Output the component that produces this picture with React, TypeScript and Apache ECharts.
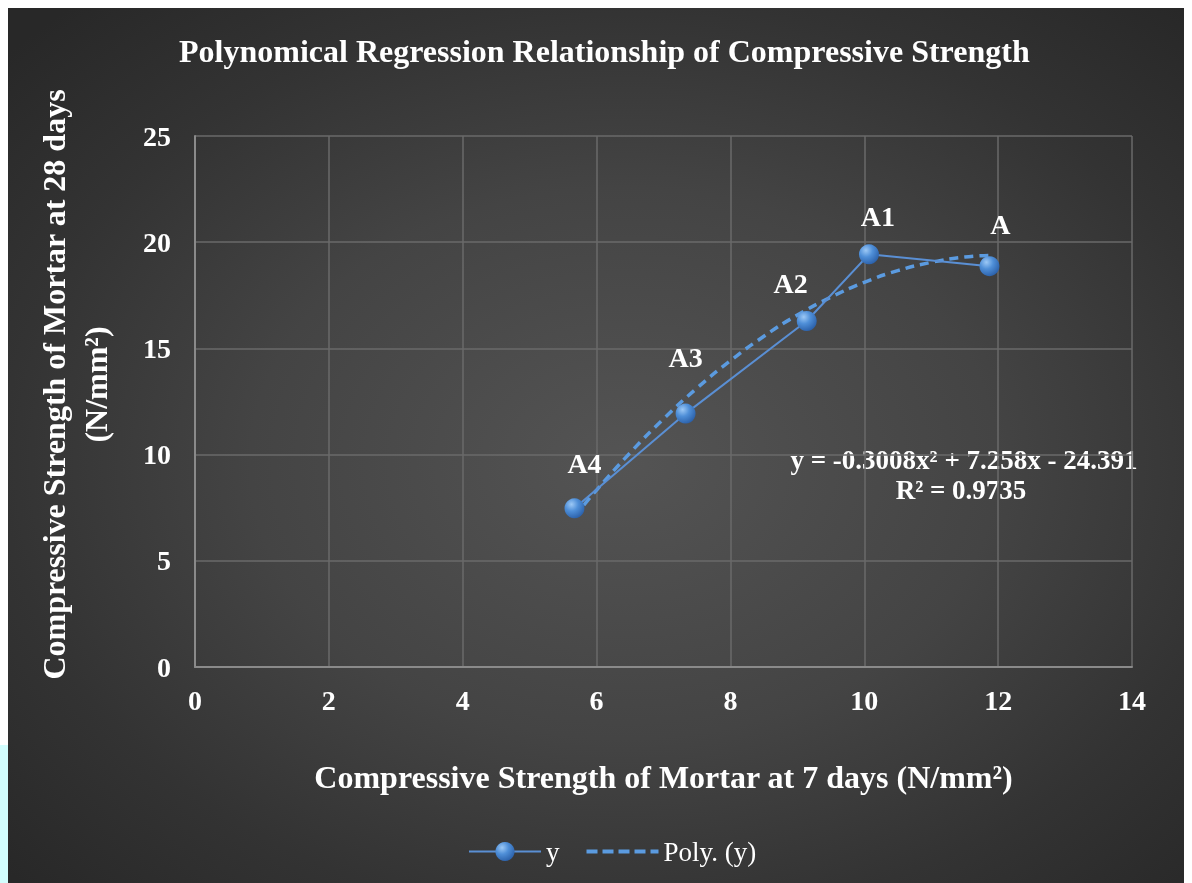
import React, { useEffect, useRef } from "react";
import * as echarts from "echarts";

const pointNames = ["A4", "A3", "A2", "A1", "A"];
const xValues = [5.67, 7.33, 9.14, 10.07, 11.87];
const yValues = [7.47, 11.93, 16.29, 19.43, 18.87];

// trend curve values
const trendX = [5.67, 6, 6.5, 7, 7.5, 8, 8.5, 9, 9.5, 10, 10.5, 11, 11.5, 11.87];
const trendY = [7.09, 8.33, 10.08, 11.68, 13.13, 14.42, 15.57, 16.57, 17.41, 18.11, 18.66, 19.05, 19.3, 19.38];

const xTicks = [0, 2, 4, 6, 8, 10, 12, 14];
const yTicks = [0, 5, 10, 15, 20, 25];

const titleText = "Polynomical Regression Relationship of Compressive Strength";
const xName = "Compressive Strength of Mortar at 7 days (N/mm²)";
const yName = "Compressive Strength of Mortar at 28 days\n(N/mm²)";
const equationText = "y = -0.3008x² + 7.258x - 24.391";
const r2Text = "R² = 0.9735";

const labelOffsets = [
  [10, -7],
  [0, -18],
  [-16, 0],
  [9, 0],
  [11, -4],
];

const FONT = "'Liberation Serif', 'Times New Roman', serif";

export default function App() {
  const ref = useRef<HTMLDivElement>(null);

  useEffect(() => {
    if (!ref.current) return;
    const chart = echarts.init(ref.current, null, { renderer: "svg" });
    const ball = new echarts.graphic.RadialGradient(0.35, 0.3, 0.75, [
      { offset: 0, color: "#9cc8f5" },
      { offset: 0.45, color: "#4f8fd8" },
      { offset: 1, color: "#2a5fa8" },
    ]);
    const option: any = {
      animation: false,
      backgroundColor: "transparent",
      textStyle: { fontFamily: FONT },
      title: {
        text: titleText,
        left: 166,
        top: 22,
        textStyle: { color: "#ffffff", fontSize: 32, fontWeight: "bold", fontFamily: FONT },
      },
      grid: { left: 187, right: 60, top: 128, bottom: 216, containLabel: false },
      xAxis: {
        type: "value",
        min: xTicks[0],
        max: xTicks[xTicks.length - 1],
        interval: 2,
        name: xName,
        nameLocation: "middle",
        nameGap: 94,
        nameTextStyle: { color: "#ffffff", fontSize: 32, fontWeight: "bold", fontFamily: FONT, verticalAlign: "top" },
        axisLine: { show: true, lineStyle: { color: "#8a8a8a", width: 2 } },
        axisTick: { show: false },
        axisLabel: { color: "#ffffff", fontSize: 28, fontWeight: "bold", fontFamily: FONT, margin: 19 },
        splitLine: { show: true, lineStyle: { color: "#6a6a6a", width: 1.5 } },
      },
      yAxis: {
        type: "value",
        min: yTicks[0],
        max: yTicks[yTicks.length - 1],
        interval: 5,
        name: yName,
        nameLocation: "middle",
        nameGap: 78,
        nameRotate: 90,
        nameTextStyle: {
          color: "#ffffff",
          fontSize: 32,
          fontWeight: "bold",
          fontFamily: FONT,
          lineHeight: 42,
          padding: [0, 0, 0, 34],
        },
        axisLine: { show: true, lineStyle: { color: "#8a8a8a", width: 2 } },
        axisTick: { show: false },
        axisLabel: { color: "#ffffff", fontSize: 28, fontWeight: "bold", fontFamily: FONT, margin: 24 },
        splitLine: { show: true, lineStyle: { color: "#6a6a6a", width: 1.5 } },
      },
      legend: {
        bottom: 13,
        left: 455,
        itemWidth: 72,
        itemHeight: 24,
        itemGap: 25,
        textStyle: { color: "#ffffff", fontSize: 27, fontFamily: FONT },
        data: [
          { name: "y" },
          { name: "Poly. (y)", itemStyle: { opacity: 0 }, lineStyle: { width: 4, type: [11, 5] } },
        ],
      },
      series: [
        {
          name: "y",
          type: "line",
          data: xValues.map((x, i) => ({
            value: [x, yValues[i]],
            label: { offset: labelOffsets[i] },
          })),
          symbol: "circle",
          symbolSize: 20,
          lineStyle: { color: "#5a8fd4", width: 2 },
          itemStyle: { color: ball, borderWidth: 0 },
          label: {
            show: true,
            position: "top",
            distance: 14,
            color: "#ffffff",
            fontSize: 28,
            fontWeight: "bold",
            fontFamily: FONT,
            formatter: (p: any) => pointNames[p.dataIndex],
          },
          z: 3,
        },
        {
          name: "Poly. (y)",
          type: "line",
          data: trendX.map((x, i) => [x, trendY[i]]),
          smooth: true,
          symbol: "none",
          lineStyle: { color: "#5b9be0", width: 3.5, type: [9, 6] },
          itemStyle: { color: "#5b9be0" },
          z: 2,
        },
      ],
      graphic: [
        {
          type: "text",
          x: 956,
          y: 452,
          style: {
            text: equationText,
            fill: "#ffffff",
            font: `bold 27px ${FONT}`,
            align: "center",
            verticalAlign: "middle",
          },
        },
        {
          type: "text",
          x: 953,
          y: 482,
          style: {
            text: r2Text,
            fill: "#ffffff",
            font: `bold 27px ${FONT}`,
            align: "center",
            verticalAlign: "middle",
          },
        },
      ],
    };
    chart.setOption(option);
    return () => chart.dispose();
  }, []);

  return (
    <>
      <div
        style={{
          position: "fixed",
          left: 0,
          top: 745,
          width: 9,
          height: 138,
          background: "#d2fdfd",
        }}
      />
      <div
        style={{
          position: "relative",
          width: 1184,
          height: 875,
          background:
            "radial-gradient(ellipse 70% 70% at 52% 52%, #545454 0%, #444444 45%, #333333 75%, #282828 100%)",
        }}
      >
        <div ref={ref} style={{ width: 1184, height: 875 }} />
      </div>
    </>
  );
}
